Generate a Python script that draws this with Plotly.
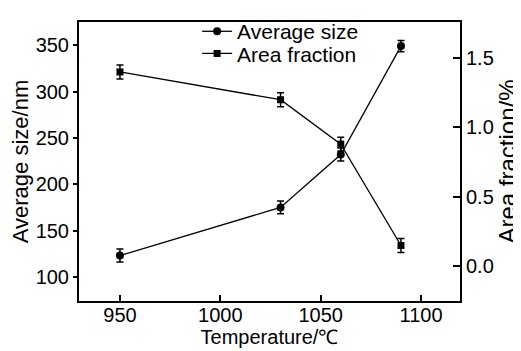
import plotly.graph_objects as go

temperature = [950, 1030, 1060, 1090]
avg_size = [123, 175, 232, 349]
avg_size_err = [7, 7, 7, 6]
area_fraction = [1.40, 1.20, 0.88, 0.15]
area_fraction_err = [0.05, 0.05, 0.05, 0.05]

x_ticks = [950, 1000, 1050, 1100]
y1_ticks = [100, 150, 200, 250, 300, 350]
y2_ticks = [0.0, 0.5, 1.0, 1.5]

FONT = "Arial, Liberation Sans, sans-serif"

fig = go.Figure()
fig.add_trace(go.Scatter(
    x=temperature, y=avg_size, name="Average size", mode="lines+markers",
    line=dict(color="black", width=1.3),
    marker=dict(symbol="circle", size=8, color="black"),
    error_y=dict(type="data", array=avg_size_err, color="black", thickness=1.5, width=3.5),
    legend="legend", showlegend=True,
))
fig.add_trace(go.Scatter(
    x=temperature, y=area_fraction, name="Area fraction", mode="lines+markers",
    line=dict(color="black", width=1.3),
    marker=dict(symbol="square", size=7, color="black"),
    error_y=dict(type="data", array=area_fraction_err, color="black", thickness=1.5, width=3.5),
    yaxis="y2", legend="legend2", showlegend=True,
))

axis_common = dict(showline=True, linecolor="black", linewidth=2, showgrid=False,
                   zeroline=False, tickcolor="black", tickwidth=2, automargin=False,
                   tickfont=dict(family=FONT, size=20, color="black"))

# page body has an 8px default margin, so the figure is sized to fit the window
W, H = 513, 343
fig.update_layout(
    width=W, height=H,
    margin=dict(l=71, r=W - 452, t=3, b=H - 293),
    paper_bgcolor="white", plot_bgcolor="white",
    showlegend=True,
    font=dict(family=FONT, size=20, color="black"),
    xaxis=dict(**axis_common, range=[929.6, 1119.4], tickvals=x_ticks,
               mirror=True, ticks="inside", ticklen=6, ticklabelstandoff=-5,
               title=dict(text="Temperature/℃", font=dict(size=20), standoff=4)),
    yaxis=dict(**axis_common, range=[74, 375], tickvals=y1_ticks, ticks="outside", ticklen=4,
               title=dict(text="Average size/nm", font=dict(size=22), standoff=6)),
    yaxis2=dict(**axis_common, range=[-0.25, 1.76], tickvals=y2_ticks,
                tickformat=".1f", overlaying="y", side="right", ticks="inside", ticklen=7,
                title=dict(text="Area fraction/%", font=dict(size=24), standoff=12)),
    legend=dict(x=0.31, y=(301 - 21) / 290, xanchor="left", yanchor="middle",
                bgcolor="rgba(0,0,0,0)", font=dict(size=21), visible=True),
    legend2=dict(x=0.31, y=(301 - 44) / 290, xanchor="left", yanchor="middle",
                 bgcolor="rgba(0,0,0,0)", font=dict(size=21), visible=True),
)

fig.write_html("out.html")
